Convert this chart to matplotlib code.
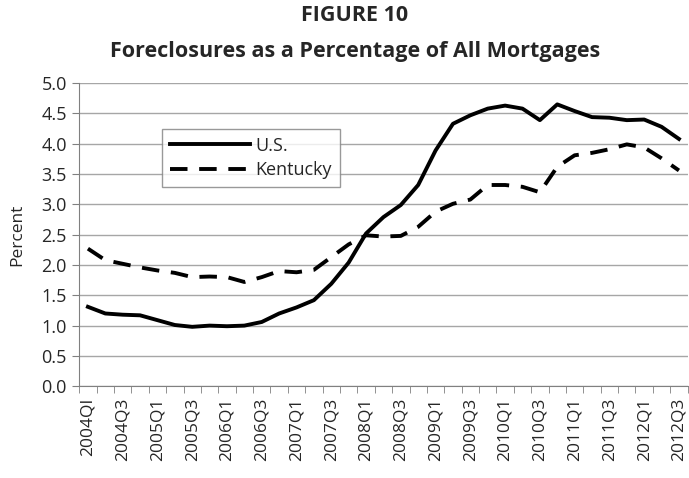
import numpy as np
import matplotlib.pyplot as plt

quarters = [f"{y}Q{q}" for y in range(2004, 2013) for q in range(1, 5)][:35]
tick_labels = ["2004QI" if q == "2004Q1" else q for q in quarters[::2]]

us = [1.31, 1.20, 1.18, 1.17, 1.09, 1.01, 0.98, 1.00, 0.99, 1.00,
      1.06, 1.20, 1.30, 1.42, 1.69, 2.04, 2.52, 2.79, 2.99, 3.32,
      3.89, 4.33, 4.47, 4.58, 4.63, 4.58, 4.39, 4.65, 4.54, 4.44,
      4.43, 4.39, 4.40, 4.28, 4.08]
kentucky = [2.27, 2.08, 2.02, 1.96, 1.91, 1.87, 1.80, 1.81, 1.80, 1.72,
            1.80, 1.90, 1.88, 1.92, 2.13, 2.34, 2.49, 2.47, 2.48, 2.63,
            2.88, 3.01, 3.08, 3.32, 3.32, 3.29, 3.20, 3.62, 3.81, 3.85,
            3.91, 3.99, 3.94, 3.76, 3.56]

plt.rcParams['font.family'] = ['Open Sans', 'DejaVu Sans']
txt = '#262626'

fig = plt.figure(figsize=(6.89, 4.78), dpi=100)
ax = fig.add_axes([0.115, 0.192, 0.883, 0.634])

x = np.arange(len(quarters))
ax.plot(x, us, color='black', lw=2.8, label='U.S.', solid_joinstyle='round')
ax.plot(x, kentucky, color='black', lw=2.8, dashes=(4.5, 3), label='Kentucky')

ax.set_xlim(-0.5, len(quarters) - 0.5)
ax.set_ylim(0, 5)
yt = np.arange(0, 5.01, 0.5)
ax.set_yticks(yt)
ax.set_yticklabels([f"{v:.1f}" for v in yt], fontsize=13, color=txt)
ax.yaxis.grid(True, color='#a6a6a6', lw=1)
ax.set_axisbelow(True)

ax.set_xticks(x[::2])
ax.set_xticklabels(tick_labels, rotation=90, fontsize=12.5, color=txt)
ax.tick_params(axis='x', length=0, pad=8)
ax.set_xticks(np.arange(-0.5, len(quarters), 1), minor=True)
ax.tick_params(axis='x', which='minor', length=5, color='#808080', direction='out')
ax.tick_params(axis='y', length=5, color='#808080', pad=4)

for s in ['top', 'right']:
    ax.spines[s].set_visible(False)
for s in ['left', 'bottom']:
    ax.spines[s].set_color('#808080')

ax.set_ylabel('Percent', fontsize=12.5, color=txt)
ax.yaxis.set_label_coords(-0.088, 0.5)

leg = ax.legend(loc='upper left', bbox_to_anchor=(0.136, 0.85), fontsize=13,
                frameon=True, fancybox=False, edgecolor='#808080',
                handlelength=4.4, borderpad=0.45, labelspacing=0.35,
                handletextpad=0.3, borderaxespad=0)
leg.get_frame().set_linewidth(1)
for t in leg.get_texts():
    t.set_color(txt)

fig.text(0.515, 0.967, 'FIGURE 10', ha='center', va='center',
         fontsize=15.5, fontweight='bold', color=txt)
fig.text(0.515, 0.893, 'Foreclosures as a Percentage of All Mortgages',
         ha='center', va='center', fontsize=15.5, fontweight='bold', color=txt)

fig.savefig('out.png', dpi=100)
